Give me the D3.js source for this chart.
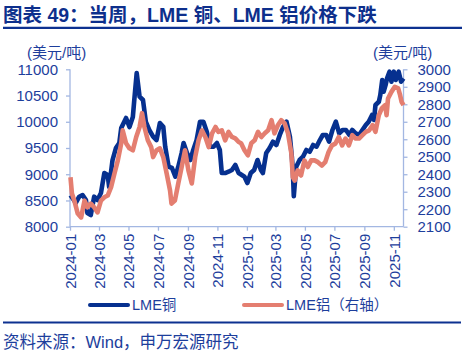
<!DOCTYPE html>
<html><head><meta charset="utf-8">
<script src="https://cdn.jsdelivr.net/npm/d3@7"></script>
<style>
body{margin:0;background:#fff;}
svg{display:block;font-family:"Liberation Sans",Arial,"Noto Sans CJK SC",sans-serif;}
</style></head>
<body><svg id="c" width="465" height="360"></svg>
<script>
const copperDates = ["2024-01-02","2024-01-06","2024-01-13","2024-01-20","2024-01-27","2024-02-03","2024-02-06","2024-02-13","2024-02-20","2024-02-27","2024-03-05","2024-03-12","2024-03-19","2024-03-22","2024-03-29","2024-04-05","2024-04-12","2024-04-16","2024-04-22","2024-04-26","2024-05-03","2024-05-10","2024-05-13","2024-05-18","2024-05-24","2024-05-31","2024-06-06","2024-06-13","2024-06-21","2024-06-28","2024-07-05","2024-07-12","2024-07-16","2024-07-23","2024-07-30","2024-08-06","2024-08-12","2024-08-19","2024-08-23","2024-08-30","2024-09-06","2024-09-12","2024-09-19","2024-09-26","2024-10-03","2024-10-10","2024-10-17","2024-10-24","2024-10-31","2024-11-06","2024-11-10","2024-11-17","2024-11-24","2024-12-01","2024-12-08","2024-12-15","2024-12-27","2025-01-02","2025-01-09","2025-01-16","2025-01-23","2025-01-30","2025-02-03","2025-02-10","2025-02-17","2025-02-24","2025-03-03","2025-03-10","2025-03-17","2025-03-24","2025-03-31","2025-04-04","2025-04-06","2025-04-08","2025-04-13","2025-04-20","2025-04-27","2025-05-04","2025-05-11","2025-05-18","2025-05-25","2025-06-01","2025-06-07","2025-06-14","2025-06-20","2025-06-27","2025-07-04","2025-07-11","2025-07-18","2025-07-25","2025-08-01","2025-08-07","2025-08-14","2025-08-21","2025-08-28","2025-09-04","2025-09-10","2025-09-17","2025-09-21","2025-09-24","2025-10-01","2025-10-04","2025-10-08","2025-10-11","2025-10-15","2025-10-18","2025-10-23","2025-10-27","2025-11-01","2025-11-05","2025-11-11","2025-11-16","2025-11-21"];
const copperValues = [8600,8547,8452,8572,8604,8509,8261,8223,8572,8509,8642,9023,8985,8757,9271,9500,9595,9881,9996,10072,9900,10091,10415,10929,10478,10415,9996,9843,9715,9652,9976,9906,9525,9144,9119,8953,9144,9405,9595,9405,9271,9462,9652,10001,10001,9811,9525,9525,9595,9462,9023,9023,9048,9081,9176,9023,8953,8833,9023,9081,9271,9081,9023,9405,9500,9620,9557,9748,9906,10001,9715,9334,9081,8580,9144,9271,9334,9462,9429,9557,9525,9652,9748,9748,9620,9843,10001,9780,9843,9843,9748,9843,9780,9748,9843,9938,10001,10129,10034,10320,10382,10510,10796,10573,10701,10828,10954,10764,10954,10796,10954,10764,10828];

const aluDates = ["2024-01-02","2024-01-05","2024-01-10","2024-01-17","2024-01-24","2024-01-31","2024-02-06","2024-02-13","2024-02-20","2024-02-27","2024-03-05","2024-03-12","2024-03-19","2024-03-26","2024-04-02","2024-04-09","2024-04-16","2024-04-19","2024-04-26","2024-05-03","2024-05-10","2024-05-17","2024-05-24","2024-05-29","2024-06-03","2024-06-10","2024-06-17","2024-06-21","2024-06-28","2024-07-05","2024-07-12","2024-07-19","2024-07-26","2024-07-29","2024-08-05","2024-08-12","2024-08-19","2024-08-26","2024-09-02","2024-09-09","2024-09-16","2024-09-23","2024-09-30","2024-10-07","2024-10-14","2024-10-21","2024-10-28","2024-11-03","2024-11-10","2024-11-17","2024-11-24","2024-12-01","2024-12-08","2024-12-15","2024-12-20","2024-12-27","2025-01-03","2025-01-10","2025-01-17","2025-01-24","2025-01-31","2025-02-07","2025-02-14","2025-02-21","2025-02-27","2025-03-06","2025-03-13","2025-03-20","2025-03-27","2025-04-03","2025-04-06","2025-04-10","2025-04-16","2025-04-23","2025-04-30","2025-05-07","2025-05-14","2025-05-21","2025-05-28","2025-06-05","2025-06-12","2025-06-19","2025-06-26","2025-07-03","2025-07-10","2025-07-17","2025-07-24","2025-07-31","2025-08-07","2025-08-14","2025-08-21","2025-08-28","2025-09-04","2025-09-11","2025-09-18","2025-09-24","2025-10-01","2025-10-07","2025-10-14","2025-10-17","2025-10-20","2025-10-27","2025-11-03","2025-11-10","2025-11-14","2025-11-17","2025-11-21"];
const aluValues = [2383,2290,2249,2175,2153,2249,2211,2232,2211,2182,2249,2268,2278,2326,2404,2479,2577,2651,2577,2548,2537,2613,2670,2749,2670,2594,2555,2498,2537,2548,2498,2404,2307,2232,2249,2347,2441,2537,2422,2347,2498,2594,2651,2613,2555,2634,2670,2642,2651,2594,2642,2613,2605,2584,2577,2537,2508,2577,2594,2642,2613,2634,2651,2709,2634,2680,2709,2692,2634,2519,2383,2364,2422,2393,2479,2441,2479,2479,2469,2450,2469,2527,2565,2575,2613,2565,2604,2565,2623,2604,2604,2623,2642,2651,2680,2642,2738,2776,2795,2738,2833,2871,2900,2891,2852,2814,2795];

const xTickLabels = ["2024-01","2024-03","2024-05","2024-07","2024-09","2024-11","2025-01","2025-03","2025-05","2025-07","2025-09","2025-11"];
const leftTicks = [8000,8500,9000,9500,10000,10500,11000];
const rightTicks = [2100,2200,2300,2400,2500,2600,2700,2800,2900,3000];
const seriesNames = ["LME铜","LME铝（右轴）"];
const titleText = "图表 49：当周，LME 铜、LME 铝价格下跌";
const sourceText = "资料来源：Wind，申万宏源研究";
const unitText = "(美元/吨)";

const parse = d3.timeParse("%Y-%m-%d");
const copper = copperDates.map((d,i)=>({date:parse(d), v:copperValues[i]}));
const alu = aluDates.map((d,i)=>({date:parse(d), v:aluValues[i]}));

const svg = d3.select("#c");
const textBlue = "#1d3e9c", titleBlue = "#0d2f8c", axisCol = "#a3b7e2";
const cCol = "#06308f", aCol = "#e47e70";
const L = 70, R = 403.5, T = 69.3, B = 226.7;

const x = d3.scaleTime().domain([parse("2024-01-01"), parse("2025-11-21")]).range([L, R]);
const yL = d3.scaleLinear().domain([8000,11000]).range([B,T]);
const yR = d3.scaleLinear().domain([2100,3000]).range([B,T]);

// title
svg.append("text").attr("x",3).attr("y",22).attr("fill",titleBlue)
  .attr("font-size",19.5).attr("font-weight","bold").text(titleText);
svg.append("line").attr("x1",3).attr("x2",462).attr("y1",27.8).attr("y2",27.8)
  .attr("stroke","#0d3190").attr("stroke-width",2.2);

// units
svg.append("text").attr("x",27).attr("y",57.5).attr("fill",textBlue).attr("font-size",15).text(unitText);
svg.append("text").attr("x",373).attr("y",57.5).attr("fill",textBlue).attr("font-size",15).text(unitText);

// axes
const gl = svg.append("g").attr("transform",`translate(${L},0)`)
  .call(d3.axisLeft(yL).tickValues(leftTicks).tickSize(4).tickPadding(8).tickFormat(d3.format("d")));
const gr = svg.append("g").attr("transform",`translate(${R},0)`)
  .call(d3.axisRight(yR).tickValues(rightTicks).tickSize(4).tickPadding(10).tickFormat(d3.format("d")));
const xTickDates = xTickLabels.map(s=>parse(s+"-01"));
const gx = svg.append("g").attr("transform",`translate(0,${B})`)
  .call(d3.axisBottom(x).tickValues(xTickDates).tickSize(4).tickFormat(d3.timeFormat("%Y-%m")));
gx.selectAll("text").attr("transform","rotate(-90)").attr("text-anchor","end")
  .attr("x",-7).attr("y",0).attr("dy","0.35em");
[gl,gr,gx].forEach(g=>{
  g.selectAll("path").attr("stroke",axisCol).attr("stroke-width",1.3);
  g.selectAll("line").attr("stroke",axisCol).attr("stroke-width",1.3);
  g.selectAll("text").attr("fill",textBlue).attr("font-size",15)
    .attr("font-family",'"Liberation Sans",Arial,sans-serif');
});
gl.select("path.domain").attr("d",`M0,${B}V${T}`);
gr.select("path.domain").attr("d",`M0,${B}V${T}`);
gx.select("path.domain").attr("d",`M${L},0H${R}`);

// lines
const lineC = d3.line().x(d=>x(d.date)).y(d=>yL(d.v)).curve(d3.curveLinear);
const lineA = d3.line().x(d=>x(d.date)).y(d=>yR(d.v)).curve(d3.curveLinear);
svg.append("path").datum(copper).attr("d",lineC).attr("fill","none")
  .attr("stroke",cCol).attr("stroke-width",4.6).attr("stroke-linejoin","round");
svg.append("path").datum(alu).attr("d",lineA).attr("fill","none")
  .attr("stroke",aCol).attr("stroke-width",4.6).attr("stroke-linejoin","round");

// legend
const lg = svg.append("g");
lg.append("line").attr("x1",90).attr("x2",128).attr("y1",305).attr("y2",305)
  .attr("stroke",cCol).attr("stroke-width",4).attr("stroke-linecap","round");
lg.append("text").attr("x",132).attr("y",310).attr("fill",textBlue).attr("font-size",14.5).text(seriesNames[0]);
lg.append("line").attr("x1",244).attr("x2",282).attr("y1",305).attr("y2",305)
  .attr("stroke",aCol).attr("stroke-width",4).attr("stroke-linecap","round");
lg.append("text").attr("x",286).attr("y",310).attr("fill",textBlue).attr("font-size",14.5).text(seriesNames[1]);

// footer
svg.append("line").attr("x1",3).attr("x2",461).attr("y1",322.5).attr("y2",322.5)
  .attr("stroke","#0d3190").attr("stroke-width",2);
svg.append("text").attr("x",3).attr("y",348).attr("fill",textBlue).attr("font-size",16.5).text(sourceText);
</script></body></html>
